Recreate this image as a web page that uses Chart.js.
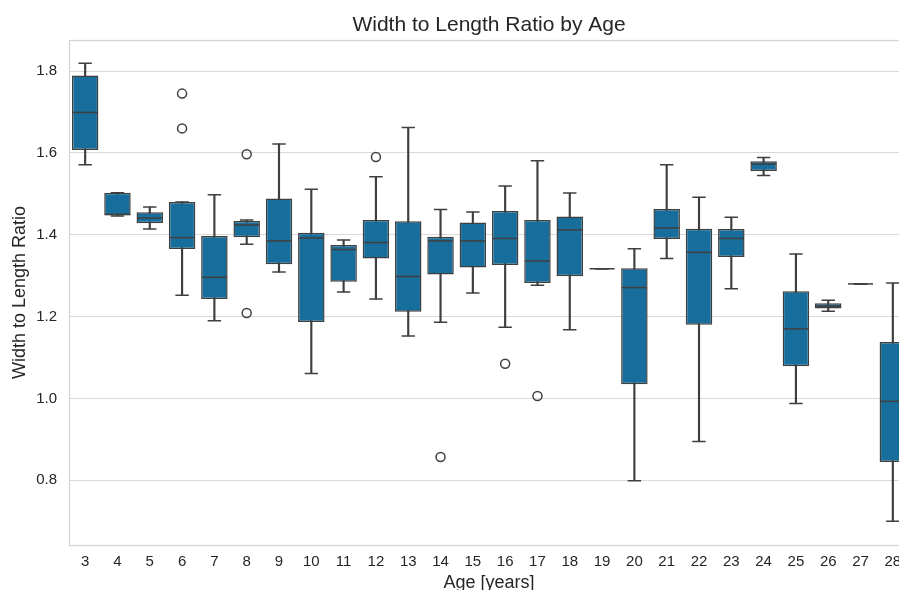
<!DOCTYPE html>
<html>
<head>
<meta charset="utf-8">
<script src="https://cdn.jsdelivr.net/npm/chart.js@4/dist/chart.umd.min.js"></script>
<style>
html,body{margin:0;padding:0;background:#ffffff;overflow:hidden;width:899px;height:590px}
#wrap{width:925px;height:590px}
</style>
</head>
<body>
<div id="wrap"><canvas id="c" width="925" height="590"></canvas></div>
<script>
// ---- data ----
const ages      = ['3','4','5','6','7','8','9','10','11','12','13','14','15','16','17','18','19','20','21','22','23','24','25','26','27','28'];
const whiskLow  = [1.571,1.446,1.414,1.252,1.190,1.377,1.309,1.061,1.260,1.243,1.153,1.186,1.258,1.174,1.277,1.168,1.317,0.799,1.342,0.895,1.268,1.545,0.988,1.213,1.280,0.700];
const q1        = [1.607,1.447,1.428,1.365,1.243,1.394,1.328,1.187,1.285,1.342,1.212,1.303,1.320,1.326,1.282,1.299,1.317,1.035,1.390,1.180,1.346,1.556,1.079,1.220,1.280,0.845];
const medians   = [1.699,1.450,1.441,1.393,1.296,1.424,1.385,1.392,1.364,1.381,1.298,1.385,1.385,1.391,1.336,1.412,1.317,1.271,1.417,1.357,1.391,1.573,1.170,1.226,1.280,0.993];
const q3        = [1.789,1.503,1.455,1.480,1.397,1.434,1.489,1.405,1.375,1.436,1.433,1.395,1.430,1.458,1.436,1.445,1.317,1.318,1.463,1.415,1.414,1.580,1.262,1.233,1.280,1.138];
const whiskHigh = [1.819,1.503,1.468,1.480,1.498,1.436,1.622,1.511,1.387,1.542,1.662,1.462,1.456,1.519,1.581,1.502,1.317,1.366,1.571,1.492,1.443,1.589,1.353,1.240,1.280,1.282];
const outlierAges   = ['6','6','8','8','12','14','16','17'];
const outlierValues = [1.745,1.660,1.597,1.209,1.590,0.857,1.085,1.006];
const yTicks = [0.8,1.0,1.2,1.4,1.6,1.8];
const yMin = 0.642, yMax = 1.876;

// ---- styling ----
const BOX = '#176e9c';
const LINE = '#3f3f3f';
const GRID = '#d9d9d9';
const TEXT = '#262626';
Chart.defaults.font.family = "'Liberation Sans', Arial, Helvetica, sans-serif";
Chart.defaults.color = TEXT;

const framePlugin = {
  id: 'frame',
  beforeDatasetsDraw(chart) {
    const a = chart.chartArea, ctx = chart.ctx;
    ctx.save();
    ctx.strokeStyle = '#d4d4d4';
    ctx.lineWidth = 1.25;
    ctx.strokeRect(Math.round(a.left) + 0.5, Math.round(a.top) + 0.5, Math.round(a.right - a.left), Math.round(a.bottom - a.top));
    ctx.restore();
  }
};

const boxData = ages.map((_, i) => [q1[i], q3[i]]);
const whiskerData = ages.map((_, i) => [whiskLow[i], whiskHigh[i]]);
const outlierData = outlierAges.map((a, i) => ({x: a, y: outlierValues[i]}));

new Chart(document.getElementById('c'), {
  type: 'bar',
  data: {
    labels: ages,
    datasets: [
      {
        label: 'whiskers', type: 'bar', data: whiskerData, order: 3,
        backgroundColor: LINE, borderWidth: 0, barThickness: 1.5, grouped: false
      },
      {
        label: 'box', type: 'bar', data: boxData, order: 2,
        backgroundColor: BOX, borderColor: LINE, borderWidth: 1.5, borderSkipped: false,
        categoryPercentage: 1.0, barPercentage: 0.82, grouped: false
      },
      {
        label: 'capHigh', type: 'line', data: whiskHigh, order: 1, showLine: false,
        pointStyle: 'line', pointRadius: 6.7, pointHoverRadius: 6.7,
        pointBorderColor: LINE, pointBorderWidth: 1.5, borderColor: LINE
      },
      {
        label: 'capLow', type: 'line', data: whiskLow, order: 1, showLine: false,
        pointStyle: 'line', pointRadius: 6.7, pointHoverRadius: 6.7,
        pointBorderColor: LINE, pointBorderWidth: 1.5, borderColor: LINE
      },
      {
        label: 'median', type: 'line', data: medians, order: 0, showLine: false,
        pointStyle: 'line', pointRadius: 12.5, pointHoverRadius: 12.5,
        pointBorderColor: LINE, pointBorderWidth: 1.5, borderColor: LINE
      },
      {
        label: 'outliers', type: 'line', data: outlierData, order: 0, showLine: false,
        pointStyle: 'circle', pointRadius: 4.5, pointHoverRadius: 4.5,
        pointBackgroundColor: 'rgba(255,255,255,0)', pointBorderColor: LINE, pointBorderWidth: 1.5
      }
    ]
  },
  options: {
    responsive: false,
    devicePixelRatio: 1,
    animation: false,
    events: [],
    layout: { padding: { top: 0, right: 16, bottom: 0, left: 0 } },
    plugins: {
      legend: { display: false },
      tooltip: { enabled: false },
      title: {
        display: true, text: 'Width to Length Ratio by Age', fullSize: false,
        color: TEXT, font: { size: 21, weight: 'normal', lineHeight: 1.2 },
        padding: { top: 12.8, bottom: 2 }
      }
    },
    scales: {
      x: {
        type: 'category', offset: true,
        grid: { display: false, drawTicks: false },
        border: { display: false },
        ticks: { color: TEXT, font: { size: 15 }, padding: 8, maxRotation: 0, autoSkip: false },
        title: { display: true, text: 'Age [years]', color: TEXT, font: { size: 18, lineHeight: 1 }, padding: { top: 0, bottom: -2 } },
        afterFit(s) { s.height = 45; }
      },
      y: {
        type: 'linear', min: yMin, max: yMax,
        grid: { color: GRID, lineWidth: 1, drawTicks: false },
        border: { display: false },
        ticks: { color: TEXT, font: { size: 15 }, padding: 12, callback: v => Number(v).toFixed(1) },
        afterBuildTicks(s) { s.ticks = yTicks.map(v => ({ value: v })); },
        title: { display: true, text: 'Width to Length Ratio', color: TEXT, font: { size: 18, lineHeight: 1 }, padding: { top: 11, bottom: 0 } },
        afterFit(s) { s.width = 69; }
      }
    }
  },
  plugins: [framePlugin]
});
</script>
</body>
</html>
